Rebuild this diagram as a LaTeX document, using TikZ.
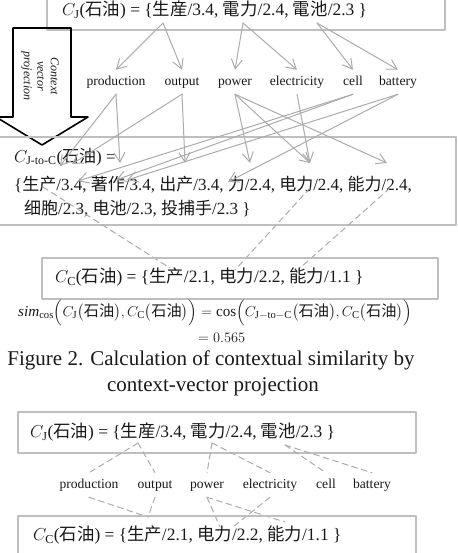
\documentclass[tikz,border=0pt]{standalone}
\usepackage{amsmath}
\usepackage{fontspec}
\setmainfont{Liberation Serif}
\newfontfamily\jafont{Noto Sans CJK JP}
\newfontfamily\zhfont{Noto Sans CJK SC}
\newcommand{\ja}[1]{{\jafont #1}}
\newcommand{\zh}[1]{{\zhfont #1}}
\usetikzlibrary{arrows.meta}
\tikzset{
	box/.style={draw=black!25, line width=1.2pt},
	arr/.style={draw=black!33, line width=1pt, -{Straight Barb[angle=60:11pt]}},
	dline/.style={draw=black!33, line width=1pt, dash pattern=on 6pt off 4pt},
	word/.style={font=\fontsize{13.6}{15}\selectfont, text height=9.5pt, text depth=3pt, inner sep=2pt, outer sep=4pt},
	vec/.style={font=\fontsize{17.4}{20}\selectfont, anchor=west, inner sep=0pt}
}
\begin{document}
\begin{tikzpicture}[x=1pt, y=-1pt, line join=round, line cap=round, text=black!90]
				\useasboundingbox (0,0) rectangle (457,553);
				\clip (0,0) rectangle (457,553);
				\path (163,23) coordinate (sa)
				(243,23) coordinate (da)
				(317,23) coordinate (ca)
				(60,166) coordinate (sc1)
				(72,164) coordinate (sc2)
				(120,163) coordinate (zz)
				(185,163) coordinate (cc)
				(250,163) coordinate (li)
				(310,163) coordinate (dl)
				(387,163) coordinate (nl)
				(78,181) coordinate (g1)
				(116,180) coordinate (g2)
				(127,180) coordinate (g3)
				(228,182) coordinate (g4)
				(43,187) coordinate (sp)
				(310,188) coordinate (dp)
				(390,188) coordinate (np)
				(170,268) coordinate (sq)
				(235,270) coordinate (dq)
				(300,268) coordinate (nq)
				(138,443) coordinate (sb)
				(212,443) coordinate (db)
				(285,445) coordinate (cb)
				(148,517) coordinate (sr)
				(220,527) coordinate (dr1)
				(233,527) coordinate (dr2)
				(285,522) coordinate (nr);
				\draw[box] (47,-5) rectangle (445,30);
				\node[vec] (cj) at (62,10) {$C_{\mathrm{J}}$(\ja{石油}) = \{\ja{生産}/3.4, \ja{電力}/2.4, \ja{電池}/2.3 \}};
				\draw[line width=1.6pt] (13,28) -- (71,28) -- (71,117) -- (88,117) -- (42,145) -- (-4,117) -- (13,117) -- cycle;
				\node[rotate=-90, align=center, font=\itshape\fontsize{12}{13.5}\selectfont] (cvp) at (40,76) {Context\\vector\\projection};
				\foreach \w/\nm/\x in {production/prod/116, output/out/182, power/pow/235, electricity/elec/297, cell/cell/353, battery/batt/398}
				\node[word] (\nm A) at (\x,82) {\w};
				\foreach \a/\b in {sa/prodA, sa/outA, da/powA, da/elecA, ca/cellA, ca/battA}
				\draw[arr] (\a) -- (\b.north);
				\draw[box] (-2,137) rectangle (456,225);
				\node[vec, font=\fontsize{17}{20}\selectfont] (jc1) at (14,157) {$C_{\text{J-to-C}}$(\zh{石油}) =};
				\node[vec, font=\fontsize{17}{20}\selectfont] (jc2) at (14,185) {\{\zh{生产}/3.4, \zh{著作}/3.4, \zh{出产}/3.4, \zh{力}/2.4, \zh{电力}/2.4, \zh{能力}/2.4,};
				\node[vec, font=\fontsize{17}{20}\selectfont] (jc3) at (24,209) {\zh{细胞}/2.3, \zh{电池}/2.3, \zh{投捕手}/2.3 \}};
				\foreach \a/\b in {prodA/sc1, prodA/zz, outA/sc2, outA/cc, powA/li, powA/dl, powA/nl, elecA/dl, cellA/g1, cellA/g2, battA/g3, battA/g4}
				\draw[arr] (\a.south) -- (\b);
				\foreach \a/\b in {sp/sq, dp/dq, np/nq}
				\draw[dline] (\a) -- (\b);
				\draw[box] (42,258) rectangle (438,299);
				\node[vec] (cc1) at (55,277) {$C_{\mathrm{C}}$(\zh{石油}) = \{\zh{生产}/2.1, \zh{电力}/2.2, \zh{能力}/1.1 \}};
				\node[font=\fontsize{15.2}{18}\selectfont, inner sep=0pt] (sim) at (215,313) {$\mathit{sim}_{\mathrm{cos}}\Bigl(C_{\mathrm{J}}\bigl(\text{\zh{石油}}\bigr), C_{\mathrm{C}}\bigl(\text{\zh{石油}}\bigr)\Bigr) = \cos\Bigl(C_{\mathrm{J-to-C}}\bigl(\text{\zh{石油}}\bigr), C_{\mathrm{C}}\bigl(\text{\zh{石油}}\bigr)\Bigr)$};
				\node[font=\fontsize{15.2}{18}\selectfont, anchor=west, inner sep=0pt] (val) at (198,338) {$= 0.565$};
				\node[font=\fontsize{21}{24}\selectfont] (cap1) at (211,360) {Figure 2. Calculation of contextual similarity by};
				\node[font=\fontsize{21}{24}\selectfont] (cap2) at (213,387) {context-vector projection};
				\draw[box] (18,412) rectangle (416,453);
				\node[vec] (cj2) at (30,432) {$C_{\mathrm{J}}$(\ja{石油}) = \{\ja{生産}/3.4, \ja{電力}/2.4, \ja{電池}/2.3 \}};
				\foreach \w/\nm/\x in {production/prod/89, output/out/155, power/pow/207, electricity/elec/270, cell/cell/326, battery/batt/372}
				\node[word] (\nm B) at (\x,485) {\w};
				\foreach \a/\b in {sb/prodB, sb/outB, db/powB, db/elecB, cb/cellB, cb/battB}
				\draw[dline] (\a) -- (\b.north);
				\foreach \a/\b in {prodB/sr, outB/sr, powB/dr1, powB/nr, elecB/dr2}
				\draw[dline] (\a.south) -- (\b);
				\draw[box] (18,516) rectangle (416,560);
				\node[vec] (cc2) at (33,535) {$C_{\mathrm{C}}$(\zh{石油}) = \{\zh{生产}/2.1, \zh{电力}/2.2, \zh{能力}/1.1 \}};
			\end{tikzpicture}
\end{document}
